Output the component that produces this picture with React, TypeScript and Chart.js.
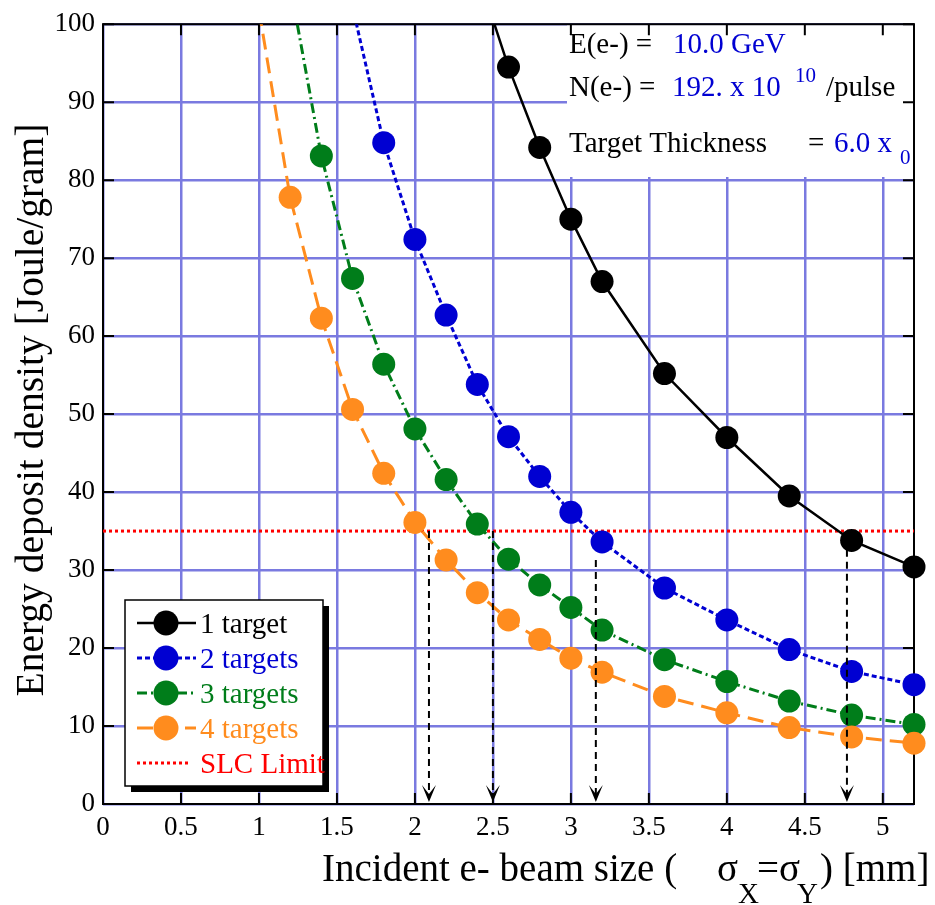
import React, { useEffect, useRef } from "react";
import { Chart, registerables } from "chart.js";

Chart.register(...registerables);

const SERIF = "'Liberation Serif', 'Times New Roman', serif";

// ---- data (beam size sigma [mm] -> energy deposit density [J/g]) ----
const sigma1 = [2.4, 2.6, 2.8, 3.0, 3.2, 3.6, 4.0, 4.4, 4.8, 5.2];
const density1 = [106.7, 94.5, 84.2, 75.0, 67.0, 55.2, 47.0, 39.5, 33.8, 30.4];

const sigma2 = [1.6, 1.8, 2.0, 2.2, 2.4, 2.6, 2.8, 3.0, 3.2, 3.6, 4.0, 4.4, 4.8, 5.2];
const density2 = [102.2, 84.8, 72.4, 62.7, 53.8, 47.1, 42.0, 37.4, 33.6, 27.7, 23.6, 19.8, 17.0, 15.3];

const sigma3 = [1.2, 1.4, 1.6, 1.8, 2.0, 2.2, 2.4, 2.6, 2.8, 3.0, 3.2, 3.6, 4.0, 4.4, 4.8, 5.2];
const density3 = [105.0, 83.1, 67.4, 56.4, 48.1, 41.6, 35.9, 31.4, 28.1, 25.2, 22.3, 18.5, 15.7, 13.2, 11.4, 10.2];

const sigma4 = [1.0, 1.2, 1.4, 1.6, 1.8, 2.0, 2.2, 2.4, 2.6, 2.8, 3.0, 3.2, 3.6, 4.0, 4.4, 4.8, 5.2];
const density4 = [101.8, 77.8, 62.3, 50.6, 42.4, 36.1, 31.3, 27.1, 23.6, 21.1, 18.7, 16.9, 13.8, 11.7, 9.8, 8.6, 7.8];

const slcSigma = [0, 5.2];
const slcDensity = [35, 35];

const arrowSigma = [2.09, 2.5, 3.16, 4.77];
const arrowFrom = [35, 35, 31.3, 32.6];

const seriesLabels = ["1 target", "2 targets", "3 targets", "4 targets", "SLC Limit"];

const xTickMin = 0;
const xTickMax = 5.2;
const xStep = 0.5;
const yTickMin = 0;
const yTickMax = 100;
const yStep = 10;

const BLACK = "#000000";
const BLUE = "#0000d2";
const GREEN = "#007d1a";
const ORANGE = "#ff8c1e";
const RED = "#ff0000";
const GRID = "#7a7ae0";

const toPoints = (xs: number[], ys: number[]) => xs.map((x, i) => ({ x, y: ys[i] }));

const markerRadius = (ctx: any) => (ctx.raw && ctx.raw.y > yTickMax ? 0 : 11.5);

const decorPlugin = {
  id: "decor",
  beforeDatasetsDraw(chart: any) {
    const { ctx, chartArea: a, scales } = chart;
    const xs = scales.x;
    const ys = scales.y;
    ctx.save();
    // white info box
    ctx.fillStyle = "#ffffff";
    ctx.fillRect(567, a.top + 1, a.right - 567 - 1, 176 - a.top);
    // frame
    ctx.strokeStyle = "#000";
    ctx.lineWidth = 2;
    ctx.setLineDash([]);
    ctx.strokeRect(a.left, a.top, a.right - a.left, a.bottom - a.top);
    // inward ticks
    ctx.beginPath();
    xs.ticks.forEach((t: any) => {
      const px = xs.getPixelForValue(t.value);
      ctx.moveTo(px, a.bottom);
      ctx.lineTo(px, a.bottom - 11);
      ctx.moveTo(px, a.top);
      ctx.lineTo(px, a.top + 11);
    });
    ys.ticks.forEach((t: any) => {
      const py = ys.getPixelForValue(t.value);
      ctx.moveTo(a.left, py);
      ctx.lineTo(a.left + 11, py);
      ctx.moveTo(a.right, py);
      ctx.lineTo(a.right - 11, py);
    });
    ctx.stroke();
    ctx.restore();
  },
  afterDatasetsDraw(chart: any) {
    const { ctx, scales } = chart;
    const xs = scales.x;
    const ys = scales.y;
    ctx.save();
    // arrows
    arrowSigma.forEach((s, i) => {
      const px = xs.getPixelForValue(s);
      const top = ys.getPixelForValue(arrowFrom[i]);
      const bot = ys.getPixelForValue(0) - 2;
      ctx.strokeStyle = "#000";
      ctx.lineWidth = 2;
      ctx.setLineDash([7, 5]);
      ctx.beginPath();
      ctx.moveTo(px, top);
      ctx.lineTo(px, bot - 8);
      ctx.stroke();
      ctx.setLineDash([]);
      ctx.fillStyle = "#000";
      ctx.beginPath();
      ctx.moveTo(px, bot);
      ctx.lineTo(px - 7, bot - 17);
      ctx.lineTo(px, bot - 8);
      ctx.lineTo(px + 7, bot - 17);
      ctx.closePath();
      ctx.fill();
    });

    // legend
    ctx.setLineDash([]);
    ctx.fillStyle = "#000";
    ctx.fillRect(131, 606, 198, 186);
    ctx.fillStyle = "#fff";
    ctx.fillRect(125, 600, 198, 186);
    ctx.strokeStyle = "#000";
    ctx.lineWidth = 1.5;
    ctx.strokeRect(125, 600, 198, 186);
    chart.data.datasets.forEach((ds: any, i: number) => {
      const cy = 623 + i * 35;
      ctx.strokeStyle = ds.borderColor;
      ctx.lineWidth = ds.borderWidth;
      ctx.setLineDash(ds.borderDash || []);
      ctx.beginPath();
      ctx.moveTo(137, cy);
      ctx.lineTo(ds.showMarker ? 196 : 191, cy);
      ctx.stroke();
      ctx.setLineDash([]);
      if (ds.showMarker) {
        ctx.fillStyle = ds.pointBackgroundColor;
        ctx.beginPath();
        ctx.arc(166, cy, 12.5, 0, Math.PI * 2);
        ctx.fill();
      }
      ctx.fillStyle = ds.borderColor;
      ctx.font = `29px ${SERIF}`;
      ctx.textAlign = "left";
      ctx.textBaseline = "alphabetic";
      ctx.fillText(ds.label, 200, cy + 10);
    });

    // info text
    ctx.textAlign = "left";
    ctx.textBaseline = "alphabetic";
    const put = (txt: string, x: number, y: number, color: string, size = 29) => {
      ctx.font = `${size}px ${SERIF}`;
      ctx.fillStyle = color;
      ctx.fillText(txt, x, y);
    };
    put("E(e-) =", 569, 53, BLACK);
    put("10.0 GeV", 673, 53, BLUE);
    put("N(e-) =", 569, 96, BLACK);
    put("192. x 10", 672, 96, BLUE);
    put("10", 795, 82, BLUE, 21);
    put("/pulse", 826, 96, BLACK);
    put("Target Thickness", 569, 152, BLACK);
    put("=", 808, 152, BLACK);
    put("6.0 x", 834, 152, BLUE);
    put("0", 900, 164, BLUE, 21);
    ctx.restore();
  },
  afterDraw(chart: any) {
    const { ctx } = chart;
    ctx.save();
    ctx.fillStyle = "#000";
    ctx.textAlign = "left";
    ctx.textBaseline = "alphabetic";
    const put = (txt: string, x: number, y: number, size: number) => {
      ctx.font = `${size}px ${SERIF}`;
      ctx.fillText(txt, x, y);
    };
    put("Incident e- beam size (", 322, 881, 39);
    put("σ", 717, 881, 39);
    put("X", 738, 903, 29);
    put("=σ", 757, 881, 39);
    put("Y", 797, 903, 29);
    put(") [mm]", 820, 881, 39);

    ctx.translate(43, 410);
    ctx.rotate(-Math.PI / 2);
    ctx.textAlign = "center";
    ctx.font = `39.5px ${SERIF}`;
    ctx.fillText("Energy deposit density [Joule/gram]", 0, 0);
    ctx.restore();
  },
};

export default function App() {
  const ref = useRef<HTMLCanvasElement | null>(null);

  useEffect(() => {
    if (!ref.current) return;
    const tickFont = { family: SERIF, size: 27 };
    const chart = new Chart(ref.current, {
      type: "line",
      data: {
        datasets: [
          {
            label: seriesLabels[0],
            data: toPoints(sigma1, density1),
            borderColor: BLACK,
            backgroundColor: BLACK,
            pointBackgroundColor: BLACK,
            borderWidth: 2.5,
            borderDash: [],
            pointRadius: markerRadius,
            pointBorderWidth: 0,
            order: 4,
            showMarker: true,
          } as any,
          {
            label: seriesLabels[1],
            data: toPoints(sigma2, density2),
            borderColor: BLUE,
            backgroundColor: BLUE,
            pointBackgroundColor: BLUE,
            borderWidth: 3,
            borderDash: [5, 3],
            pointRadius: markerRadius,
            pointBorderWidth: 0,
            order: 3,
            showMarker: true,
          } as any,
          {
            label: seriesLabels[2],
            data: toPoints(sigma3, density3),
            borderColor: GREEN,
            backgroundColor: GREEN,
            pointBackgroundColor: GREEN,
            borderWidth: 3,
            borderDash: [10, 4, 2, 4],
            pointRadius: markerRadius,
            pointBorderWidth: 0,
            order: 2,
            showMarker: true,
          } as any,
          {
            label: seriesLabels[3],
            data: toPoints(sigma4, density4),
            borderColor: ORANGE,
            backgroundColor: ORANGE,
            pointBackgroundColor: ORANGE,
            borderWidth: 3,
            borderDash: [16, 8],
            pointRadius: markerRadius,
            pointBorderWidth: 0,
            order: 1,
            showMarker: true,
          } as any,
          {
            label: seriesLabels[4],
            data: toPoints(slcSigma, slcDensity),
            borderColor: RED,
            backgroundColor: RED,
            pointBackgroundColor: RED,
            borderWidth: 3,
            borderDash: [3, 3],
            pointRadius: 0,
            order: 10,
            showMarker: false,
          } as any,
        ],
      },
      options: {
        animation: false,
        responsive: false,
        devicePixelRatio: 1,
        events: [],
        parsing: false as any,
        layout: { padding: { left: 0, right: 21, top: 22, bottom: 0 } },
        datasets: {
          line: {
            tension: 0,
            fill: false,
            clip: { left: false, top: 0, right: false, bottom: false } as any,
          },
        },
        plugins: {
          legend: { display: false },
          tooltip: { enabled: false },
          title: { display: false },
        },
        scales: {
          x: {
            type: "linear",
            min: xTickMin,
            max: xTickMax,
            border: { display: false },
            grid: { color: GRID, lineWidth: 2.5, drawTicks: false },
            ticks: {
              stepSize: xStep,
              includeBounds: false,
              autoSkip: false,
              maxRotation: 0,
              padding: 8,
              color: "#000",
              font: tickFont,
              callback: (v: any) => String(Math.round(Number(v) * 10) / 10),
            },
            afterFit: (s: any) => {
              s.height = 101;
            },
          },
          y: {
            type: "linear",
            min: yTickMin,
            max: yTickMax,
            border: { display: false },
            grid: { color: GRID, lineWidth: 2.5, drawTicks: false },
            ticks: {
              stepSize: yStep,
              padding: 8,
              color: "#000",
              font: tickFont,
            },
            afterFit: (s: any) => {
              s.width = 103;
            },
          },
        },
      },
      plugins: [decorPlugin],
    });
    return () => chart.destroy();
  }, []);

  return (
    <div style={{ position: "absolute", left: 0, top: 0, width: 935, height: 905 }}>
      <canvas ref={ref} width={935} height={905} style={{ display: "block" }} />
    </div>
  );
}
